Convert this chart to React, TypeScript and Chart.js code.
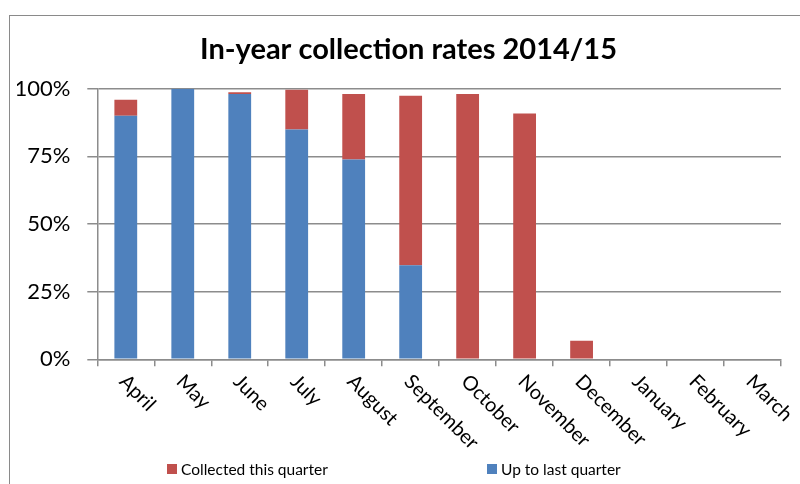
import React, { useEffect, useRef } from "react";
import { Chart, registerables } from "chart.js";

Chart.register(...registerables);

const months = ["April", "May", "June", "July", "August", "September", "October", "November", "December", "January", "February", "March"];
const upToLastQuarter = [90.0, 100.0, 98.0, 84.9, 73.8, 34.8, 0, 0, 0, 0, 0, 0];
const collectedThisQuarter = [5.9, 0, 0.7, 14.7, 24.2, 62.6, 98.0, 90.8, 6.9, 0, 0, 0];
const yTicks = [0, 25, 50, 75, 100];

const FONT = "Lato, 'Open Sans', sans-serif";
const BLUE = "#4F81BD";
const RED = "#C0504D";
const GRID = "#8c8c8c";

const titleShift = {
  id: "titleShift",
  afterLayout(chart: any) {
    const tb = chart.titleBlock;
    if (tb) {
      tb.left = 36;
      tb.right = chart.chartArea.right;
      tb.width = tb.right - tb.left;
    }
  },
};

const rotatedLabels = {
  id: "rotatedLabels",
  afterDraw(chart: any) {
    const ctx = chart.ctx;
    const xs = chart.scales.x;
    const labels = chart.data.labels as string[];
    ctx.save();
    ctx.font = `20px ${FONT}`;
    ctx.fillStyle = "#000";
    ctx.textAlign = "left";
    ctx.textBaseline = "middle";
    labels.forEach((lab, i) => {
      const x = xs.getPixelForValue(i);
      ctx.save();
      ctx.translate(x - 3, chart.chartArea.bottom + 19);
      ctx.rotate(Math.PI / 4);
      ctx.fillText(lab, 0, 0);
      ctx.restore();
    });
    ctx.restore();
  },
};

const bottomLegend = {
  id: "bottomLegend",
  afterDraw(chart: any) {
    const ctx = chart.ctx;
    const ds = chart.data.datasets;
    const items = [ds[1], ds[0]];
    const starts = [167, 487];
    ctx.save();
    ctx.font = `15.5px ${FONT}`;
    ctx.textAlign = "left";
    ctx.textBaseline = "middle";
    items.forEach((d: any, i: number) => {
      ctx.fillStyle = d.backgroundColor;
      ctx.fillRect(starts[i], 464, 10, 10);
      ctx.fillStyle = "#000";
      ctx.fillText(d.label, starts[i] + 14, 470);
    });
    ctx.restore();
  },
};

export default function App() {
  const ref = useRef<HTMLCanvasElement>(null);
  useEffect(() => {
    if (!ref.current) return;
    const chart = new Chart(ref.current, {
      type: "bar",
      data: {
        labels: months,
        datasets: [
          {
            label: "Up to last quarter",
            data: upToLastQuarter,
            backgroundColor: BLUE,
            categoryPercentage: 1,
            barPercentage: 0.4,
          },
          {
            label: "Collected this quarter",
            data: collectedThisQuarter,
            backgroundColor: RED,
            categoryPercentage: 1,
            barPercentage: 0.4,
          },
        ],
      },
      options: {
        animation: false,
        responsive: true,
        maintainAspectRatio: false,
        layout: { padding: { left: 17, right: 19, top: 20, bottom: 94.7 } },
        plugins: {
          legend: { display: false },
          tooltip: { enabled: false },
          title: {
            display: true,
            text: "In-year collection rates 2014/15",
            color: "#000",
            font: { family: FONT, size: 29, weight: "bold", lineHeight: 1.2 },
            padding: { top: 12.6, bottom: 21.3 },
          },
        },
        scales: {
          x: {
            stacked: true,
            offset: true,
            grid: {
              offset: true,
              drawOnChartArea: false,
              drawTicks: true,
              tickLength: 7,
              color: GRID,
              lineWidth: 1.5,
            },
            border: { display: true, color: GRID, width: 1.5 },
            ticks: { callback: () => "", autoSkip: false, maxRotation: 0 },
            afterFit: (s: any) => { s.height = 30; },
          },
          y: {
            stacked: true,
            min: 0,
            max: 100,
            afterBuildTicks: (s: any) => { s.ticks = yTicks.map((v) => ({ value: v })); },
            grid: { color: GRID, lineWidth: 1.5, tickLength: 10 },
            border: { display: true, color: GRID, width: 1.5 },
            ticks: {
              color: "#000",
              padding: 17,
              font: { family: FONT, size: 22 },
              callback: (v: any) => `${v}%`,
            },
            afterFit: (s: any) => { s.width = 80.3; },
          },
        },
      },
      plugins: [titleShift, rotatedLabels, bottomLegend],
    });
    return () => chart.destroy();
  }, []);

  return (
    <div style={{ position: "fixed", left: 0, top: 0, width: 800, height: 484, overflow: "hidden", background: "#fff" }}>
      <div style={{ position: "absolute", left: 9, top: 15, width: 820, height: 500, borderLeft: "1px solid #8a8a8a", borderTop: "1.5px solid #8a8a8a" }} />
      <div style={{ position: "absolute", left: 0, top: 0, width: 800, height: 484 }}>
        <canvas ref={ref} />
      </div>
    </div>
  );
}
